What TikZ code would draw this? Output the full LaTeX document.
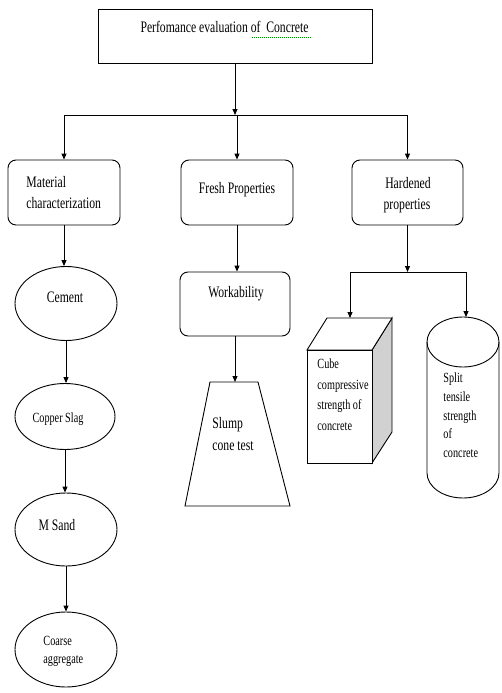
\documentclass[tikz,border=0pt]{standalone}
\usepackage{fontspec}
\setmainfont{Liberation Serif}[FakeStretch=0.73]
\usetikzlibrary{arrows.meta,shapes.geometric}
\begin{document}
\begin{tikzpicture}[x=1pt,y=-1pt,line width=0.9pt,
  box/.style={draw, rounded corners=8pt, inner sep=0pt, minimum width=112pt, minimum height=65pt},
  topbox/.style={draw, inner sep=0pt, minimum width=274pt, minimum height=54pt},
  oval/.style={draw, ellipse, inner sep=0pt, minimum width=102pt, minimum height=74pt},
  arr/.style={-{Triangle[length=6pt,width=5pt]}},
  big/.style={inner sep=0pt, font=\fontsize{16}{21}\selectfont},
  small/.style={inner sep=0pt, font=\fontsize{14}{20}\selectfont},
  squig/.style={draw=green!55!black, line width=0.8pt, dash pattern=on 1pt off 1pt}]
\useasboundingbox (0,0) rectangle (501,693);

% top box
\node[topbox] (top) at (235,36) {};
\node[big, anchor=base] (toptxt) at (224.5,33) {Perfomance evaluation of\ \ Concrete};
\coordinate (sq1) at (252,37);
\coordinate (sq2) at (312,37);
\draw[squig] (sq1) -- (sq2);

% second level
\node[box] (mat) at (64,192.5) {};
\node[box] (fresh) at (237,192.5) {};
\node[box, minimum width=111pt] (hard) at (407.5,192.5) {};
\node[big, anchor=base west] (mat1) at (26,187) {Material};
\node[big, anchor=base west] (mat2) at (26,208) {characterization};
\node[big, anchor=base] (fresh1) at (237,193) {Fresh Properties};
\node[big, anchor=base] (hard1) at (408,188) {Hardened};
\node[big, anchor=base] (hard2) at (407,209) {properties};

\coordinate (j) at (236,115);
\draw[arr] (top.south) -- (top.south |- j);
\draw (mat.north |- j) -- (hard.north |- j);
\draw[arr] (mat.north |- j) -- (mat.north);
\draw[arr] (fresh.north |- j) -- (fresh.north);
\draw[arr] (hard.north |- j) -- (hard.north);

% left column
\node[oval] (cem) at (66,303.5) {};
\node[oval, minimum width=100pt, minimum height=66pt] (cop) at (65,416.5) {};
\node[oval, minimum height=73pt] (msand) at (66,529.5) {};
\node[oval, minimum height=75pt] (coarse) at (66,649.5) {};
\node[big, anchor=base] (cemt) at (65,302) {Cement};
\node[small, anchor=base] (copt) at (58,422) {Copper Slag};
\node[big, anchor=base] (msandt) at (57,530) {M Sand};
\node[small, anchor=base west] (coa1) at (43,645) {Coarse};
\node[small, anchor=base west] (coa2) at (43,663) {aggregate};
\draw[arr] (mat.south) -- (mat.south |- cem.north);
\draw[arr] (cem.south) -- (cem.south |- cop.north);
\draw[arr] (cop.south) -- (cop.south |- msand.north);
\draw[arr] (msand.south) -- (msand.south |- coarse.north);

% middle column
\node[box, minimum width=110pt, minimum height=64pt] (work) at (235,304) {};
\node[big, anchor=base] (workt) at (236,297) {Workability};
\draw[arr] (fresh.south) -- (fresh.south |- work.north);
\draw (210,382) -- (258,382) -- (290,506) -- (185,506) -- cycle;
\coordinate (trap) at (236,382);
\node[big, anchor=base west] (sl1) at (212,428) {Slump};
\node[big, anchor=base west] (sl2) at (212,450) {cone test};
\draw[arr] (work.south) -- (work.south |- trap);

% right column
\coordinate (hj) at (407.5,272);
\coordinate (cubetop) at (350,318);
\coordinate (cyltop) at (466,317);
\draw[arr] (hard.south) -- (hj);
\draw (cubetop |- hj) -- (cyltop |- hj);
\draw[arr] (cubetop |- hj) -- (cubetop);
\draw[arr] (cyltop |- hj) -- (cyltop);

% cube
\draw[fill=black!18] (372,350) -- (392,318) -- (392,432) -- (372,463) -- cycle;
\draw[fill=white] (307,350) -- (327,318) -- (392,318) -- (372,350) -- cycle;
\draw[fill=white] (307,350) rectangle (372,463);
\node[small, anchor=base west] (cu1) at (317,368) {Cube};
\node[small, anchor=base west] (cu2) at (317,389) {compressive};
\node[small, anchor=base west] (cu3) at (317,409) {strength of};
\node[small, anchor=base west] (cu4) at (317,430) {concrete};

% cylinder
\draw (427,342) -- (427,473) arc[start angle=180, end angle=360, x radius=36pt, y radius=25pt] -- (499,342);
\draw (463,342) ellipse[x radius=36pt, y radius=25pt];
\node[small, anchor=base west] (sp1) at (443,382) {Split};
\node[small, anchor=base west] (sp2) at (443,401) {tensile};
\node[small, anchor=base west] (sp3) at (443,420) {strength};
\node[small, anchor=base west] (sp4) at (443,438) {of};
\node[small, anchor=base west] (sp5) at (443,457) {concrete};
\end{tikzpicture}
\end{document}
